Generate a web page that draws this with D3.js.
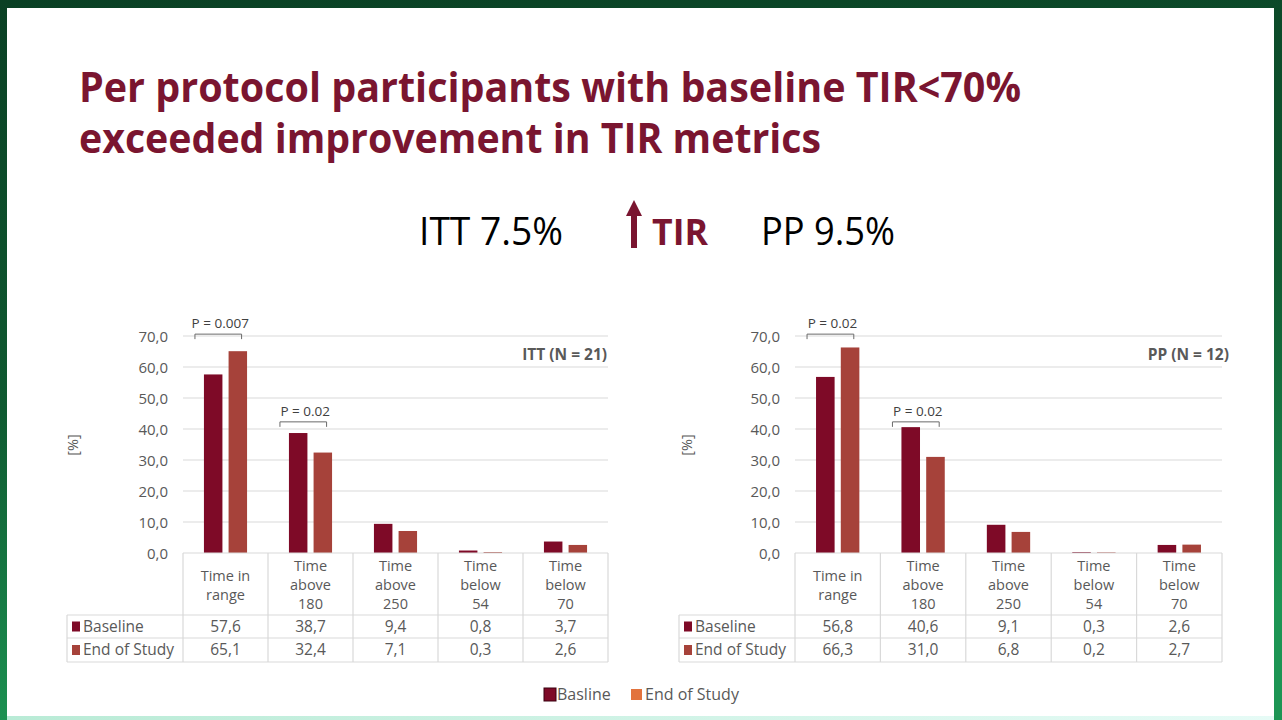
<!DOCTYPE html>
<html>
<head>
<meta charset="utf-8">
<script src="https://cdn.jsdelivr.net/npm/d3@7/dist/d3.min.js"></script>
<style>
  html, body { margin: 0; padding: 0; width: 1282px; height: 720px; overflow: hidden; }
  svg { display: block; }
</style>
</head>
<body>
<svg id="chart" width="1282" height="720"></svg>
<script>
// ---------------- DATA ----------------
const titleLines = ["Per protocol participants with baseline TIR<70%", "exceeded improvement in TIR metrics"];
const categories = ["Time in range", "Time above 180", "Time above 250", "Time below 54", "Time below 70"];
const categoryLines = [["Time in", "range"], ["Time", "above", "180"], ["Time", "above", "250"], ["Time", "below", "54"], ["Time", "below", "70"]];
const seriesNames = ["Baseline", "End of Study"];
const legendNames = ["Basline", "End of Study"];
const ittBaseline = [57.6, 38.7, 9.4, 0.8, 3.7];
const ittEnd = [65.1, 32.4, 7.1, 0.3, 2.6];
const ppBaseline = [56.8, 40.6, 9.1, 0.3, 2.6];
const ppEnd = [66.3, 31.0, 6.8, 0.2, 2.7];
const yTicks = [0, 10, 20, 30, 40, 50, 60, 70];
const ittPValues = [{ cat: 0, label: "P = 0.007", level: 70.6 }, { cat: 1, label: "P = 0.02", level: 42.3 }];
const ppPValues = [{ cat: 0, label: "P = 0.02", level: 70.6 }, { cat: 1, label: "P = 0.02", level: 42.3 }];
const headerStats = { itt: "ITT 7.5%", tir: "TIR", pp: "PP 9.5%" };
const panelTitles = ["ITT (N = 21)", "PP (N = 12)"];

// ---------------- STYLE ----------------
const maroon = "#7a1530";
const cBase = "#7e0a27";
const cEnd = "#a6423a";
const cLegendEnd = "#e2733d";
const txt = "#595959";
const grid = "#d9d9d9";
const chartFont = "'Open Sans', 'DejaVu Sans', sans-serif";
const fmt = v => d3.format(".1f")(v).replace(".", ",");

const svg = d3.select("#chart");

// background frame
const defs = svg.append("defs");
const bg = defs.append("linearGradient").attr("id", "bg").attr("x1", 0).attr("y1", 0).attr("x2", 0.2).attr("y2", 1);
bg.append("stop").attr("offset", "0%").attr("stop-color", "#0a4024");
bg.append("stop").attr("offset", "55%").attr("stop-color", "#0f5a31");
bg.append("stop").attr("offset", "100%").attr("stop-color", "#1d9554");
svg.append("rect").attr("width", 1282).attr("height", 720).attr("fill", "url(#bg)");
const bot = defs.append("linearGradient").attr("id", "bot").attr("x1", 0).attr("y1", 0).attr("x2", 1).attr("y2", 0);
bot.append("stop").attr("offset", "0%").attr("stop-color", "#b9ebd6");
bot.append("stop").attr("offset", "100%").attr("stop-color", "#e6fbf6");
svg.append("rect").attr("x", 7).attr("y", 714).attr("width", 1267).attr("height", 6).attr("fill", "url(#bot)");
svg.append("rect").attr("x", 7).attr("y", 8).attr("width", 1267).attr("height", 708).attr("fill", "#ffffff");

// title
svg.append("g").selectAll("text").data(titleLines).join("text")
  .attr("x", 79).attr("y", (d, i) => 102 + i * 51)
  .attr("font-family", "'Open Sans', sans-serif").attr("font-weight", 700)
  .attr("font-size", 41).attr("fill", maroon)
  .attr("textLength", (d, i) => i === 0 ? 942 : 742).attr("lengthAdjust", "spacingAndGlyphs")
  .text(d => d);

// header stats
svg.append("text").attr("x", 419).attr("y", 245).attr("font-family", "'Open Sans', sans-serif")
  .attr("font-size", 38).attr("fill", "#000").attr("textLength", 144).attr("lengthAdjust", "spacingAndGlyphs")
  .text(headerStats.itt);
svg.append("text").attr("x", 761).attr("y", 245).attr("font-family", "'Open Sans', sans-serif")
  .attr("font-size", 38).attr("fill", "#000").attr("textLength", 134).attr("lengthAdjust", "spacingAndGlyphs")
  .text(headerStats.pp);
svg.append("text").attr("x", 652).attr("y", 245).attr("font-family", "'Open Sans', sans-serif").attr("font-weight", 700)
  .attr("font-size", 36).attr("fill", maroon).attr("textLength", 56).attr("lengthAdjust", "spacingAndGlyphs")
  .text(headerStats.tir);
// arrow
svg.append("rect").attr("x", 631).attr("y", 213).attr("width", 6).attr("height", 35).attr("fill", maroon);
svg.append("path").attr("d", "M626,216 L634,200 L642,216 Z").attr("fill", maroon);

// ---------------- CHART PANEL ----------------
function drawPanel(opts) {
  const g = svg.append("g");
  const x0 = opts.left, x1 = opts.right, tableLeft = opts.tableLeft;
  const y = d3.scaleLinear().domain([0, 70]).range([553, 336]);
  const xc = d3.scaleBand().domain(categories).range([x0, x1]).paddingInner(0).paddingOuter(0);
  const xs = d3.scaleBand().domain(seriesNames).range([0, xc.bandwidth()]).paddingInner(0.25).paddingOuter(0.85);

  // gridlines
  g.append("g").selectAll("line").data(yTicks.filter(t => t > 0)).join("line")
    .attr("x1", x0).attr("x2", x1).attr("y1", d => y(d)).attr("y2", d => y(d))
    .attr("stroke", grid).attr("stroke-width", 1);

  // y axis labels
  const axis = d3.axisLeft(y).tickValues(yTicks).tickFormat(fmt).tickSize(0).tickPadding(0);
  const ag = g.append("g").attr("transform", `translate(${x0 - 15},0)`).call(axis);
  ag.select(".domain").remove();
  ag.selectAll("text").attr("font-family", chartFont).attr("font-size", 15).attr("fill", txt).attr("dy", "0.35em");

  // y label
  g.append("text").attr("transform", `translate(${opts.yLabelX},445) rotate(-90)`)
    .attr("text-anchor", "middle").attr("font-family", chartFont).attr("font-size", 14.5).attr("fill", txt).text("[%]");

  // bars
  const rows = categories.map((c, i) => ({ cat: c, vals: [opts.base[i], opts.end[i]] }));
  const bg2 = g.append("g").selectAll("g").data(rows).join("g").attr("transform", d => `translate(${xc(d.cat)},0)`);
  bg2.selectAll("rect").data(d => d.vals.map((v, j) => ({ s: seriesNames[j], v }))).join("rect")
    .attr("x", d => xs(d.s)).attr("width", xs.bandwidth())
    .attr("y", d => y(d.v)).attr("height", d => y(0) - y(d.v))
    .attr("fill", d => d.s === seriesNames[0] ? cBase : cEnd);

  // p-value brackets
  opts.pvals.forEach(p => {
    const cx = xc(categories[p.cat]);
    const l = cx + xs(seriesNames[0]) - 9;
    const r = cx + xs(seriesNames[1]) + 13;
    const yy = y(p.level);
    g.append("path").attr("d", `M${l},${yy + 5} L${l},${yy} L${r},${yy} L${r},${yy + 5}`)
      .attr("fill", "none").attr("stroke", "#6a6a6a").attr("stroke-width", 1);
    g.append("text").attr("x", (l + r) / 2 + 2).attr("y", yy - 6).attr("text-anchor", "middle")
      .attr("font-family", chartFont).attr("font-size", 13.5).attr("fill", "#404040").text(p.label);
  });

  // panel title
  g.append("text").attr("x", opts.titleX).attr("y", 360).attr("text-anchor", "end")
    .attr("font-family", chartFont).attr("font-weight", 700).attr("font-size", 15.5).attr("fill", txt).text(opts.title);

  // ---------- data table ----------
  const rowY = [553, 615, 638, 662];
  const tl = g.append("g").attr("stroke", grid).attr("stroke-width", 1.2);
  tl.append("line").attr("x1", x0).attr("x2", x1).attr("y1", rowY[0]).attr("y2", rowY[0]);
  [1, 2, 3].forEach(k => tl.append("line").attr("x1", tableLeft).attr("x2", x1).attr("y1", rowY[k]).attr("y2", rowY[k]));
  tl.append("line").attr("x1", tableLeft).attr("x2", tableLeft).attr("y1", rowY[1]).attr("y2", rowY[3]);
  categories.forEach(c => tl.append("line").attr("x1", xc(c)).attr("x2", xc(c)).attr("y1", rowY[0]).attr("y2", rowY[3]));
  tl.append("line").attr("x1", x1).attr("x2", x1).attr("y1", rowY[0]).attr("y2", rowY[3]);

  // header text
  categories.forEach((c, i) => {
    const lines = categoryLines[i];
    const mid = 585;
    const start = mid - (lines.length - 1) * 19 / 2;
    g.append("g").selectAll("text").data(lines).join("text")
      .attr("x", xc(c) + xc.bandwidth() / 2).attr("y", (d, k) => start + k * 19).attr("dy", "0.35em")
      .attr("text-anchor", "middle").attr("font-family", chartFont).attr("font-size", 14.5).attr("fill", txt)
      .text(d => d);
  });

  // rows
  [opts.base, opts.end].forEach((vals, r) => {
    const cy = (rowY[r + 1] + rowY[r + 2]) / 2;
    g.append("rect").attr("x", tableLeft + 5).attr("y", cy - 5).attr("width", 8).attr("height", 10)
      .attr("fill", r === 0 ? cBase : cEnd);
    g.append("text").attr("x", tableLeft + 16).attr("y", cy).attr("dy", "0.35em")
      .attr("font-family", chartFont).attr("font-size", 15.5).attr("fill", txt).text(seriesNames[r]);
    g.append("g").selectAll("text").data(vals).join("text")
      .attr("x", (d, i) => xc(categories[i]) + xc.bandwidth() / 2).attr("y", cy).attr("dy", "0.35em")
      .attr("text-anchor", "middle").attr("font-family", chartFont).attr("font-size", 15.5).attr("fill", txt)
      .text(d => fmt(d));
  });
}

drawPanel({ left: 183, right: 608, tableLeft: 67, yLabelX: 78, base: ittBaseline, end: ittEnd, pvals: ittPValues, title: panelTitles[0], titleX: 607 });
drawPanel({ left: 795, right: 1222, tableLeft: 679, yLabelX: 692, base: ppBaseline, end: ppEnd, pvals: ppPValues, title: panelTitles[1], titleX: 1229 });

// ---------------- LEGEND ----------------
const lg = svg.append("g").attr("font-family", "'Open Sans', sans-serif").attr("font-size", 16).attr("fill", txt);
lg.append("rect").attr("x", 544).attr("y", 688).attr("width", 12).attr("height", 13).attr("fill", cBase).attr("stroke", "#3a0010").attr("stroke-width", 1);
lg.append("text").attr("x", 557).attr("y", 694).attr("dy", "0.35em").text(legendNames[0]);
lg.append("rect").attr("x", 631).attr("y", 689).attr("width", 11).attr("height", 11).attr("fill", cLegendEnd);
lg.append("text").attr("x", 645).attr("y", 694).attr("dy", "0.35em").text(legendNames[1]);
</script>
</body>
</html>
